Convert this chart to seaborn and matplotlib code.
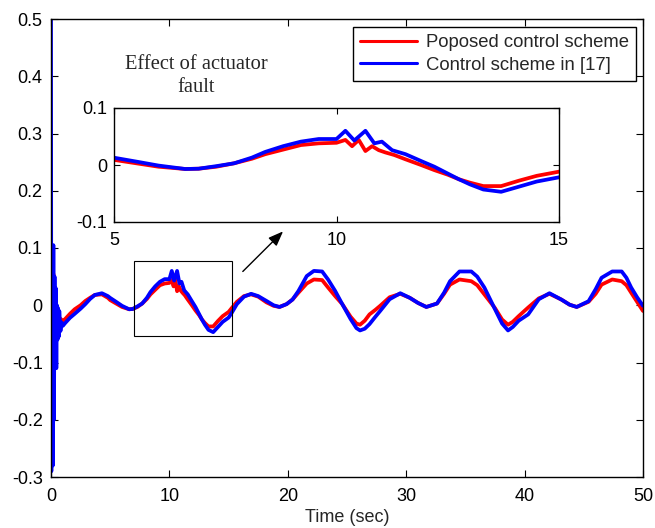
import numpy as np
import pandas as pd
import matplotlib
matplotlib.use("Agg")
import matplotlib.pyplot as plt
from matplotlib.patches import Rectangle
import seaborn as sns

# ---------------- data ----------------
t_red = [0, 0.05, 0.1, 0.15, 0.2, 0.3, 0.4, 0.5, 0.7, 1.0, 1.2, 1.6, 2.0, 2.5, 2.9, 3.3, 3.7,
         4.3, 4.8, 5.0, 5.5, 6.0, 6.6, 6.9, 7.3, 7.7, 8.1, 8.4, 8.8, 9.2, 9.6, 10.0, 10.2,
         10.35, 10.5, 10.65, 10.8, 10.95, 11.1, 11.3, 11.55, 11.9, 12.2, 12.5, 12.75, 13.0,
         13.3, 13.7, 14.1, 14.5, 15.0, 15.3, 15.7, 16.3, 16.9, 17.5, 18.2, 18.8, 19.3, 19.9,
         20.4, 20.9, 21.6, 22.2, 22.9, 23.4, 24.0, 24.6, 25.3, 25.8, 26.1, 26.5, 26.9, 27.4,
         27.8, 28.6, 29.5, 30.3, 31.0, 31.7, 32.6, 33.2, 33.7, 34.5, 35.5, 36.0, 36.6, 37.5,
         38.1, 38.6, 39.0, 39.5, 40.3, 41.2, 42.1, 43.1, 43.8, 44.4, 45.4, 46.0, 46.5, 47.4,
         48.2, 48.6, 49.0, 49.5, 50.0]
y_red = [0.0, -0.25, 0.077, -0.15, 0.055, -0.05, 0.0, -0.04, -0.022, -0.027, -0.024, -0.015,
         -0.007, 0.0, 0.0075, 0.013, 0.018, 0.019, 0.013, 0.009, 0.003, -0.003, -0.007, -0.0065,
         -0.003, 0.003, 0.011, 0.019, 0.027, 0.035, 0.038, 0.039, 0.044, 0.033, 0.044, 0.0245,
         0.033, 0.026, 0.022, 0.0175, 0.010, 0.0, -0.009, -0.017, -0.025, -0.031, -0.037,
         -0.037, -0.0275, -0.019, -0.0117, -0.004, 0.006, 0.016, 0.019, 0.015, 0.005, -0.001,
         -0.003, 0.002, 0.010, 0.022, 0.038, 0.045, 0.044, 0.031, 0.016, 0.002, -0.020, -0.032,
         -0.034, -0.027, -0.016, -0.008, -0.001, 0.014, 0.020, 0.013, 0.004, -0.003, 0.003,
         0.020, 0.036, 0.045, 0.042, 0.035, 0.019, -0.005, -0.025, -0.034, -0.029, -0.019,
         -0.004, 0.012, 0.020, 0.010, 0.001, -0.003, 0.006, 0.020, 0.036, 0.045, 0.042, 0.035,
         0.022, 0.006, -0.010]

t_blue = [0, 0.03, 0.1, 0.15, 0.2, 0.25, 0.3, 0.35, 0.4, 0.45, 0.5, 0.55, 0.6, 0.65, 0.7, 0.8,
          0.9, 1.0, 1.2, 1.6, 2.0, 2.5, 2.9, 3.3, 3.7, 4.3, 4.8, 5.0, 5.5, 6.0, 6.6, 6.9, 7.3,
          7.7, 8.1, 8.4, 8.8, 9.2, 9.6, 10.0, 10.2, 10.4, 10.65, 10.85, 11.02, 11.25, 11.55,
          11.9, 12.2, 12.5, 12.75, 13.0, 13.3, 13.7, 14.1, 14.5, 15.0, 15.3, 15.7, 16.3, 16.9,
          17.5, 18.2, 18.8, 19.3, 19.9, 20.4, 20.9, 21.6, 22.2, 22.9, 23.4, 24.0, 24.6, 25.3,
          25.8, 26.1, 26.5, 26.9, 27.4, 27.8, 28.6, 29.5, 30.3, 31.0, 31.7, 32.6, 33.2, 33.7,
          34.5, 35.5, 36.0, 36.6, 37.5, 38.1, 38.6, 39.0, 39.5, 40.3, 41.2, 42.1, 43.1, 43.8,
          44.4, 45.4, 46.0, 46.5, 47.4, 48.2, 48.6, 49.0, 49.5, 50.0]
y_blue = [0.5, -0.29, 0.1, -0.28, 0.105, -0.2, 0.05, -0.1, 0.03, -0.11, 0.0, -0.06, -0.005,
          -0.055, -0.01, -0.045, -0.03, -0.036, -0.031, -0.022, -0.015, -0.006, 0.002, 0.011,
          0.018, 0.021, 0.016, 0.0128, 0.006, -0.001, -0.007, -0.0065, -0.002, 0.003, 0.013,
          0.023, 0.033, 0.041, 0.0456, 0.0456, 0.060, 0.043, 0.060, 0.038, 0.041, 0.026, 0.019,
          0.007, -0.003, -0.015, -0.025, -0.034, -0.043, -0.047, -0.038, -0.029, -0.0216,
          -0.012, 0.002, 0.015, 0.020, 0.016, 0.0075, 0.0, -0.003, 0.002, 0.010, 0.025, 0.051,
          0.060, 0.059, 0.045, 0.025, 0.002, -0.024, -0.040, -0.044, -0.041, -0.033, -0.020,
          -0.010, 0.0105, 0.021, 0.013, 0.004, -0.003, 0.003, 0.022, 0.042, 0.059, 0.059, 0.050,
          0.031, -0.007, -0.032, -0.044, -0.038, -0.027, -0.016, 0.0105, 0.021, 0.010, 0.001,
          -0.003, 0.007, 0.028, 0.048, 0.059, 0.059, 0.048, 0.031, 0.014, -0.001]

series_names = ["Poposed control scheme", "Control scheme in [17]"]
main_xticks = [0, 10, 20, 30, 40, 50]
main_yticks = [-0.3, -0.2, -0.1, 0, 0.1, 0.2, 0.3, 0.4, 0.5]
main_yticklabels = ["-0.3", "-0.2", "-0.1", "0", "0.1", "0.2", "0.3", "0.4", "0.5"]
inset_xticks = [5, 10, 15]
inset_yticks = [-0.1, 0, 0.1]
inset_yticklabels = ["-0.1", "0", "0.1"]

# ---------------- styling ----------------
sns.set_style("ticks")
plt.rcParams["font.family"] = ["Liberation Sans", "DejaVu Sans"]
plt.rcParams["axes.unicode_minus"] = False
plt.rcParams["xtick.direction"] = "in"
plt.rcParams["ytick.direction"] = "in"

df = pd.concat([
    pd.DataFrame({"t": t_red, "y": y_red, "s": series_names[0]}),
    pd.DataFrame({"t": t_blue, "y": y_blue, "s": series_names[1]}),
], ignore_index=True)
palette = {series_names[0]: "#ff0000", series_names[1]: "#0000ff"}

LW = 2.7
TICK_FS = 13

fig = plt.figure(figsize=(6.55, 5.28), dpi=100)
ax = fig.add_axes([51 / 655, 1 - 477 / 528, 592 / 655, 458 / 528])

sns.lineplot(data=df, x="t", y="y", hue="s", palette=palette, estimator=None, sort=False,
             linewidth=LW, ax=ax)
ax.set_xlim(0, 50)
ax.set_ylim(-0.3, 0.5)
ax.set_xticks(main_xticks)
ax.set_yticks(main_yticks)
ax.set_yticklabels(main_yticklabels)
ax.tick_params(labelsize=TICK_FS, top=True, right=True, length=5, width=0.8, colors="black")
ax.tick_params(axis="x", pad=8)
ax.tick_params(axis="y", pad=6)
ax.set_xlabel("Time (sec)", fontsize=TICK_FS, labelpad=3)
ax.set_ylabel("")
for sp in ax.spines.values():
    sp.set_visible(True)
    sp.set_color("black")
    sp.set_linewidth(1.0)

leg = ax.legend(loc="upper right", bbox_to_anchor=(0.988, 0.9825), borderaxespad=0,
                fontsize=13.3, frameon=True, fancybox=False, framealpha=1,
                handlelength=3.1, handletextpad=0.45, borderpad=0.4, labelspacing=0.3)
leg.get_frame().set_edgecolor("black")
leg.get_frame().set_linewidth(1.0)
for ln in leg.get_lines():
    ln.set_linewidth(2.2)

# zoom rectangle and arrow
ax.add_patch(Rectangle((7.0, -0.054), 8.3, 0.131, fill=False, edgecolor="black", linewidth=0.8,
                       zorder=5))
ax.annotate("", xy=(19.6, 0.129), xytext=(16.2, 0.059),
            arrowprops=dict(arrowstyle="-|>,head_length=0.9,head_width=0.35", color="black",
                            linewidth=1.0, shrinkA=0, shrinkB=0))

fig.text(196 / 655, 1 - 76 / 528, "Effect of actuator\nfault", ha="center", va="center",
         fontsize=14.8, family=["Liberation Serif", "DejaVu Serif"], linespacing=1.3)

# inset
axin = fig.add_axes([114 / 655, 1 - 222 / 528, 445 / 655, 114 / 528])
sns.lineplot(data=df, x="t", y="y", hue="s", palette=palette, estimator=None, sort=False,
             linewidth=LW, ax=axin, legend=False)
axin.set_xlim(5, 15)
axin.set_ylim(-0.1, 0.1)
axin.set_xticks(inset_xticks)
axin.set_yticks(inset_yticks)
axin.set_yticklabels(inset_yticklabels)
axin.tick_params(labelsize=TICK_FS, top=True, right=True, length=4, width=0.8, colors="black")
axin.tick_params(axis="x", pad=7)
axin.tick_params(axis="y", pad=5)
axin.set_xlabel("")
axin.set_ylabel("")
for sp in axin.spines.values():
    sp.set_visible(True)
    sp.set_color("black")
    sp.set_linewidth(1.0)

fig.savefig("out.png", dpi=100)
